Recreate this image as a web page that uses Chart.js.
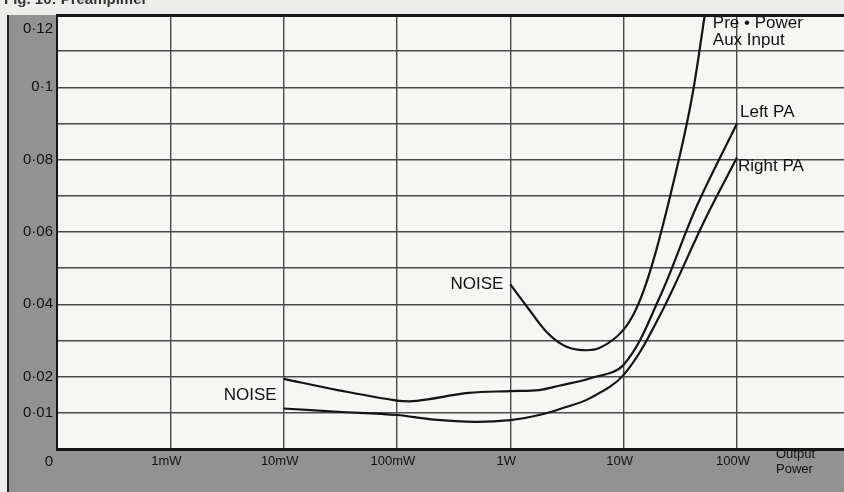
<!DOCTYPE html>
<html>
<head>
<meta charset="utf-8">
<script src="https://cdn.jsdelivr.net/npm/chart.js@4.4.1/dist/chart.umd.min.js"></script>
<style>
  body { margin: 0; background: #ededeb; }
  #wrap { width: 844px; height: 492px; }
</style>
</head>
<body>
<div id="wrap"><canvas id="myChart" width="844" height="492"></canvas></div>
<script>
// ====================== data (output power in W, distortion in %)

const preX = [1, 1.47, 2.07, 2.9, 4.06, 6.1, 10, 13.8, 19.3, 31, 40.5, 52];
const preY = [0.0455, 0.0385, 0.0325, 0.0288, 0.0274, 0.0279, 0.033, 0.0408, 0.0547, 0.0806, 0.098, 0.12];

const leftX = [0.01, 0.03, 0.1, 0.15, 0.43, 1, 1.8, 2.7, 5, 10, 20.7, 43.5, 100];
const leftY = [0.0194, 0.0163, 0.0134, 0.0133, 0.0155, 0.016, 0.0163, 0.0175, 0.0195, 0.0233, 0.0418, 0.0667, 0.09];

const rightX = [0.01, 0.03, 0.1, 0.2, 0.49, 1, 1.8, 2.7, 5, 10, 20.7, 53.3, 100];
const rightY = [0.0112, 0.0103, 0.0094, 0.0082, 0.0075, 0.008, 0.0094, 0.011, 0.014, 0.0205, 0.0367, 0.064, 0.0806];

const xTicks = [0.001, 0.01, 0.1, 1, 10, 100];
const xTickLabels = ['1mW', '10mW', '100mW', '1W', '10W', '100W'];

const yTicks = [0.12, 0.1, 0.08, 0.06, 0.04, 0.02, 0.01, 0];
const yTickLabels = ['0·12', '0·1', '0·08', '0·06', '0·04', '0·02', '0·01', '0'];

const seriesNames = ['Pre • Power Aux Input', 'Left PA', 'Right PA'];

// ====================== helpers

function toPoints(xs, ys){
  let pts = [];
  for(let i = 0; i < xs.length; i++){
    pts.push({x: xs[i], y: ys[i]});
  }
  return pts;
}

const font = '"Liberation Sans", Arial, sans-serif';

// ====================== frame + text plugin

const framePlugin = {
  id: 'frame',
  beforeDraw(chart){
    const ctx = chart.ctx;
    const a = chart.chartArea;
    ctx.save();
    ctx.fillStyle = '#ededeb';
    ctx.fillRect(0, 0, chart.width, chart.height);
    // grey card behind the axes
    ctx.fillStyle = '#929292';
    ctx.fillRect(8, a.top, chart.width - 8, chart.height - a.top);
    ctx.fillStyle = '#222';
    ctx.fillRect(7, a.top, 2, chart.height - a.top);
    // plot paper
    ctx.fillStyle = '#f6f6f4';
    ctx.fillRect(a.left, a.top, a.right - a.left, a.bottom - a.top);
    // cut off caption at the very top
    ctx.fillStyle = '#333';
    ctx.font = 'bold 15px ' + font;
    ctx.textBaseline = 'alphabetic';
    ctx.fillText('Fig. 10: Preamplifier', 4, 4);
    ctx.restore();
  },
  afterDraw(chart){
    const ctx = chart.ctx;
    const a = chart.chartArea;
    const ys = chart.scales.y;
    ctx.save();
    // borders
    ctx.fillStyle = '#151515';
    ctx.fillRect(a.left - 1, a.top - 1, a.right - a.left + 1, 3);
    ctx.fillRect(a.left - 1, a.top, 2, a.bottom - a.top);
    ctx.fillRect(a.left - 1, a.bottom - 1, a.right - a.left + 1, 3);

    // y labels
    ctx.fillStyle = '#111';
    ctx.font = '15px ' + font;
    ctx.textAlign = 'right';
    ctx.textBaseline = 'middle';
    for(let i = 0; i < yTicks.length; i++){
      let y = ys.getPixelForValue(yTicks[i]);
      if(i === 0) y += 14;
      if(yTicks[i] === 0) y += 13;
      ctx.fillText(yTickLabels[i], a.left - 4, y);
    }

    // axis title
    ctx.font = '13px ' + font;
    ctx.textAlign = 'left';
    ctx.fillText('Output', 776, 454);
    ctx.fillText('Power', 776, 469);

    // curve labels
    ctx.font = '17px ' + font;
    ctx.textAlign = 'right';
    let p = chart.getDatasetMeta(0).data[0];
    ctx.fillText('NOISE', p.x - 7, p.y);
    p = chart.getDatasetMeta(1).data[0];
    ctx.fillText('NOISE', p.x - 7, p.y + 16);

    ctx.textAlign = 'left';
    let m = chart.getDatasetMeta(0).data;
    p = m[m.length - 1];
    ctx.fillText('Pre • Power', p.x + 8, p.y + 8);
    ctx.fillText('Aux Input', p.x + 8, p.y + 25);
    m = chart.getDatasetMeta(1).data;
    p = m[m.length - 1];
    ctx.fillText('Left PA', p.x + 3, p.y - 11);
    m = chart.getDatasetMeta(2).data;
    p = m[m.length - 1];
    ctx.fillText('Right PA', p.x + 1, p.y + 9);
    ctx.restore();
  }
};

// ====================== chart

const lineStyle = {
  borderColor: '#141414',
  borderWidth: 2.2,
  pointRadius: 0,
  fill: false,
  tension: 0.35
};

const dataLines = {
  datasets: [
    Object.assign({label: seriesNames[0], data: toPoints(preX, preY)}, lineStyle),
    Object.assign({label: seriesNames[1], data: toPoints(leftX, leftY)}, lineStyle),
    Object.assign({label: seriesNames[2], data: toPoints(rightX, rightY)}, lineStyle)
  ]
};

const configLines = {
  type: 'line',
  data: dataLines,
  options: {
    responsive: false,
    animation: false,
    devicePixelRatio: 1,
    layout: { padding: { top: 15, left: 0, right: 0, bottom: 0 } },
    plugins: {
      legend: { display: false },
      tooltip: { enabled: false }
    },
    scales: {
      x: {
        type: 'logarithmic',
        min: 0.0001,
        max: 100 * Math.pow(10, 107 / 113.3),
        border: { display: false },
        grid: { color: '#4a4a4a', lineWidth: 1.4, drawTicks: false },
        afterBuildTicks: function(scale){
          scale.ticks = xTicks.map(v => ({value: v}));
        },
        afterFit: function(scale){
          scale.height = 43;
          scale.paddingLeft = 0;
          scale.paddingRight = 0;
        },
        ticks: {
          autoSkip: false,
          maxRotation: 0,
          padding: 5,
          labelOffset: -4,
          color: '#111',
          font: { family: font, size: 13 },
          callback: function(value){
            let i = xTicks.indexOf(value);
            return i >= 0 ? xTickLabels[i] : '';
          }
        }
      },
      y: {
        min: 0,
        max: 0.12,
        border: { display: false },
        grid: { color: '#4a4a4a', lineWidth: 1.4, drawTicks: false },
        ticks: { display: false, stepSize: 0.01 },
        afterFit: function(scale){
          scale.width = 57;
          scale.paddingTop = 0;
          scale.paddingBottom = 0;
        }
      }
    }
  },
  plugins: [framePlugin]
};

const myChart = new Chart(document.getElementById('myChart'), configLines);
</script>
</body>
</html>
